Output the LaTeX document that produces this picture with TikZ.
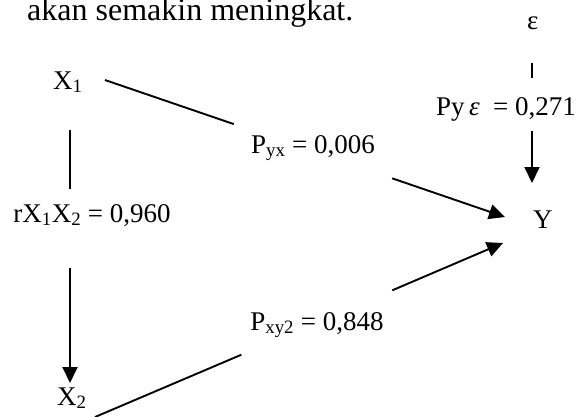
\documentclass[tikz,border=0pt]{standalone}
\usepackage{fontspec}
\setmainfont{Liberation Serif}
\usetikzlibrary{arrows.meta,positioning,calc}
\tikzset{
  var/.style  = {inner sep=0pt, anchor=base west, font=\fontsize{27}{32}\selectfont},
  coef/.style = {inner sep=0pt, anchor=base, font=\fontsize{27}{32}\selectfont},
  link/.style = {line width=1.9pt},
  sig/.style  = {link, -{Triangle[length=16pt, width=15pt]}},
}
\begin{document}
\begin{tikzpicture}[x=1pt, y=-1pt]
\useasboundingbox (0,0) rectangle (587,416);
% text of the page above the figure
\node[anchor=base west, inner sep=0pt, font=\fontsize{32}{38}\selectfont]
  (intro) at (27,20) {akan semakin meningkat.};
% variables
\node[var] (x1) at (53,89) {X\textsubscript{1}};
\node[var] (x2) at (57,405) {X\textsubscript{2}};
\node[var] (y) at (533,228) {Y};
\node[var] (eps) at (527,29) {ε};
% coefficients
\node[coef, minimum width=158pt, text height=33.8pt, text depth=30.2pt]
  (pyx) at (313,153) {P\textsubscript{yx} = 0,006};
\node[coef, minimum width=158pt, text height=39.5pt, text depth=24.5pt]
  (pxy) at (317,330) {P\textsubscript{xy2} = 0,848};
\node[coef, text height=33pt, text depth=46pt]
  (rxx) at (92,222) {rX\textsubscript{1}X\textsubscript{2} = 0,960};
\node[coef, text height=37pt, text depth=16pt]
  (pye) at (506,115) {Py\,\textit{ε}\enspace= 0,271};
% free ends of the lines
\coordinate (x1r) at (105,80);
\coordinate (x1d) at (70,130);
\coordinate (x2u) at (70,383);
\coordinate (x2r) at (95,417);
\coordinate (epsd) at (532,63);
\coordinate (yt) at (532,183);
\coordinate (yl) at (505,217);
\coordinate (ybl) at (503,243);
% paths
\draw[link] (x1r) -- (pyx);
\draw[sig] (pyx) -- (yl);
\draw[link] (x2r) -- (pxy);
\draw[sig] (pxy) -- (ybl);
\draw[link] (x1d) -- (x1d |- rxx.north);
\draw[sig] (x1d |- rxx.south) -- (x2u);
\draw[link] (epsd) -- (epsd |- pye.north);
\draw[sig] (epsd |- pye.south) -- (yt);
\end{tikzpicture}
\end{document}
